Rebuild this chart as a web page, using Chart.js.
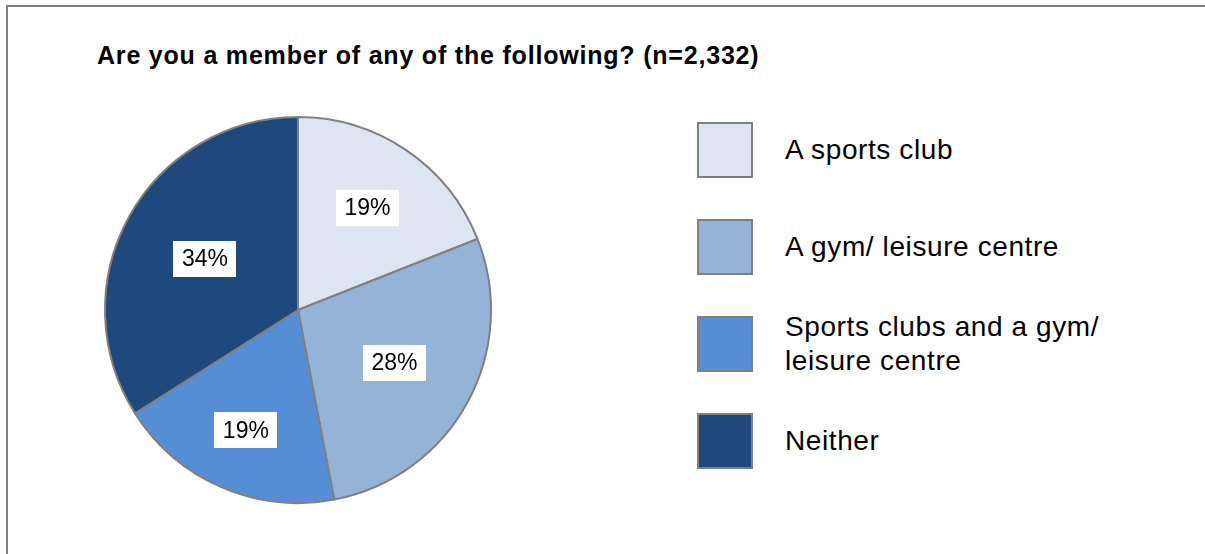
<!DOCTYPE html>
<html>
<head>
<meta charset="utf-8">
<script src="https://cdn.jsdelivr.net/npm/chart.js@4/dist/chart.umd.min.js"></script>
<style>
  body { margin: 0; background: #fff; width: 1205px; height: 554px; overflow: hidden; position: relative; font-family: "Liberation Sans", Arial, sans-serif; }
  #frame { position: absolute; left: 6px; top: 5px; width: 1300px; height: 700px; border: 2px solid #808080; }
  #title { position: absolute; left: 97px; top: 43px; font-size: 25px; line-height: 25px; letter-spacing: 0.8px; font-weight: bold; color: #000; white-space: nowrap; }
  #pieWrap { position: absolute; left: 98px; top: 110px; width: 400px; height: 400px; }
  #legend { position: absolute; left: 697px; top: 122px; }
  .item { position: relative; height: 97px; }
  .box { position: absolute; left: 0; top: 0; width: 52px; height: 52px; border: 2px solid #808080; }
  .txt { position: absolute; left: 88px; top: 28px; transform: translateY(-50%); font-size: 28px; line-height: 34px; letter-spacing: 0.6px; color: #000; width: 360px; }
</style>
</head>
<body>
<div id="frame"></div>
<div id="title">Are you a member of any of the following? (n=2,332)</div>
<div id="pieWrap"><canvas id="myPie" width="400" height="400"></canvas></div>
<div id="legend"></div>
<script>
  const categories = ['A sports club', 'A gym/ leisure centre', 'Sports clubs and a gym/ leisure centre', 'Neither'];
  const shares = [19, 28, 19, 34];
  const colours = ['#DCE6F2', '#95B3D7', '#558ED5', '#1F497D'];

  // legend built from the same arrays
  const legend = document.getElementById('legend');
  categories.forEach((name, i) => {
    const item = document.createElement('div');
    item.className = 'item';
    const box = document.createElement('div');
    box.className = 'box';
    box.style.background = colours[i];
    const txt = document.createElement('div');
    txt.className = 'txt';
    txt.textContent = name;
    item.appendChild(box);
    item.appendChild(txt);
    legend.appendChild(item);
  });

  // white boxed percentage inside each slice
  const sliceLabels = {
    id: 'sliceLabels',
    afterDatasetsDraw(chart, args, opts) {
      const ctx = chart.ctx;
      const meta = chart.getDatasetMeta(0);
      ctx.save();
      ctx.font = '23px "Liberation Sans", Arial, sans-serif';
      ctx.textAlign = 'center';
      ctx.textBaseline = 'middle';
      meta.data.forEach((arc, i) => {
        const p = arc.getProps(['x', 'y', 'startAngle', 'endAngle', 'outerRadius'], true);
        const mid = (p.startAngle + p.endAngle) / 2;
        const r = p.outerRadius * opts.radius[i];
        const cx = p.x + Math.cos(mid) * r;
        const cy = p.y + Math.sin(mid) * r;
        const text = shares[i] + '%';
        const w = ctx.measureText(text).width + 17;
        const h = 36;
        ctx.fillStyle = '#fff';
        ctx.fillRect(Math.round(cx - w / 2), Math.round(cy - h / 2), Math.round(w), h);
        ctx.fillStyle = '#000';
        ctx.fillText(text, cx, cy + 1);
      });
      ctx.restore();
    }
  };

  new Chart(document.getElementById('myPie'), {
    type: 'pie',
    data: {
      labels: categories,
      datasets: [{
        data: shares,
        backgroundColor: colours,
        borderColor: '#808080',
        borderWidth: 2
      }]
    },
    options: {
      responsive: false,
      animation: false,
      layout: { padding: 6 },
      plugins: {
        legend: { display: false },
        tooltip: { enabled: false },
        sliceLabels: { radius: [0.64, 0.57, 0.68, 0.55] }
      }
    },
    plugins: [sliceLabels]
  });
</script>
</body>
</html>
